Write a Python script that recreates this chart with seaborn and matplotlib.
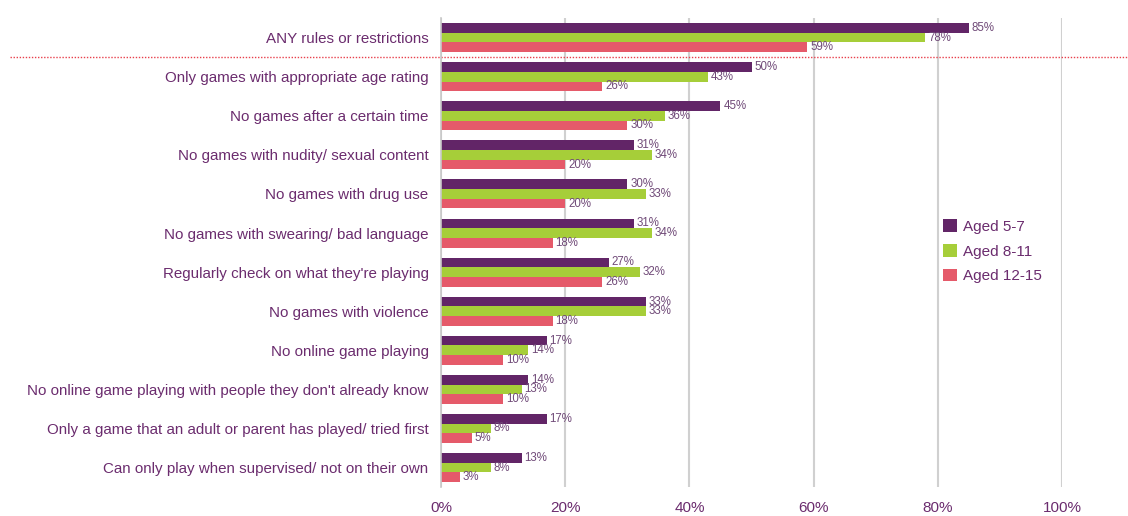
import numpy as np
import pandas as pd
import matplotlib
matplotlib.use("Agg")
import matplotlib.pyplot as plt
import matplotlib.transforms as mtransforms
from matplotlib.lines import Line2D
import seaborn as sns

categories = [
    "ANY rules or restrictions",
    "Only games with appropriate age rating",
    "No games after a certain time",
    "No games with nudity/ sexual content",
    "No games with drug use",
    "No games with swearing/ bad language",
    "Regularly check on what they're playing",
    "No games with violence",
    "No online game playing",
    "No online game playing with people they don't already know",
    "Only a game that an adult or parent has played/ tried first",
    "Can only play when supervised/ not on their own",
]
aged_5_7 = [85, 50, 45, 31, 30, 31, 27, 33, 17, 14, 17, 13]
aged_8_11 = [78, 43, 36, 34, 33, 34, 32, 33, 14, 13, 8, 8]
aged_12_15 = [59, 26, 30, 20, 20, 18, 26, 18, 10, 10, 5, 3]
groups = ["Aged 5-7", "Aged 8-11", "Aged 12-15"]
colors = ["#622567", "#A6CE39", "#E55A6A"]
text_col = "#6B2C6E"

df = pd.DataFrame({
    "category": categories * 3,
    "value": aged_5_7 + aged_8_11 + aged_12_15,
    "group": [g for g in groups for _ in categories],
})

sns.set_style("white")
plt.rcParams['font.family'] = ['Liberation Sans', 'DejaVu Sans']

fig = plt.figure(figsize=(11.28, 5.16), dpi=100)
ax = fig.add_axes([0.391, 0.056, 0.5505, 0.909])

sns.barplot(data=df, y="category", x="value", hue="group", order=categories,
            hue_order=groups, palette=colors, orient="h", width=0.74,
            saturation=1, linewidth=0, ax=ax)

# value labels next to each bar
for cont in ax.containers:
    ax.bar_label(cont, fmt="%d%%", padding=2, fontsize=8.3, color="#704A78")

ax.set_xlim(0, 100)
ax.set_ylim(len(categories) - 0.5, -0.5)
ax.set_xticks(range(0, 101, 20))
ax.set_xticklabels([f"{v}%" for v in range(0, 101, 20)])
ax.set_xlabel("")
ax.set_ylabel("")
ax.xaxis.grid(True, color="#D0D0D0", linewidth=1.5)
ax.set_axisbelow(True)
for s in ["top", "right", "bottom"]:
    ax.spines[s].set_visible(False)
ax.spines["left"].set_color("#C8C8C8")
ax.spines["left"].set_linewidth(1.2)

ax.tick_params(axis="x", length=0, pad=10, labelsize=11, labelcolor=text_col)
ax.tick_params(axis="y", which="major", length=0, pad=9, labelsize=10.9,
               labelcolor=text_col)
ax.set_yticks(np.arange(-0.5, len(categories), 1), minor=True)
ax.tick_params(axis="y", which="minor", length=4, color="#C8C8C8", width=1.2)

# dotted separator below the "ANY" row
trans = mtransforms.blended_transform_factory(fig.transFigure, ax.transData)
ax.add_line(Line2D([0.009, 1.0], [0.5, 0.5], transform=trans, color="#E8404C",
                   linestyle=(0, (1, 1.2)), linewidth=1.0, clip_on=False))

leg = ax.legend(loc="upper left", bbox_to_anchor=(0.787, 0.6), frameon=False,
                fontsize=11, handlelength=0.9, handleheight=0.9,
                handletextpad=0.4, labelspacing=0.65)
for t in leg.get_texts():
    t.set_color(text_col)

fig.savefig("out.png", dpi=100)
